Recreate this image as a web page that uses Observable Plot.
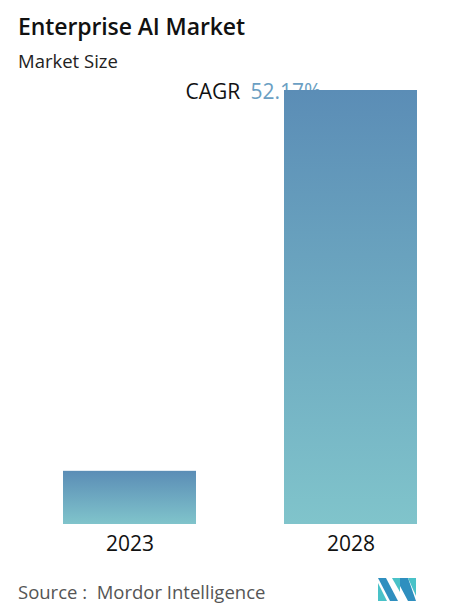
<!DOCTYPE html>
<html>
<head>
<meta charset="utf-8">
<script src="https://cdn.jsdelivr.net/npm/d3@7"></script>
<script src="https://cdn.jsdelivr.net/npm/@observablehq/plot@0.6"></script>
<style>
  html, body { margin: 0; padding: 0; background: #fff; }
  body { width: 474px; height: 615px; position: relative; overflow: hidden; font-family: "Open Sans", Lato, sans-serif; }
  #title { position: absolute; left: 18px; top: 10px; font-size: 23px; font-weight: 600; color: #111; letter-spacing: -0.1px; white-space: nowrap; }
  #subtitle { position: absolute; left: 18px; top: 48px; font-size: 18.5px; color: #222; white-space: nowrap; }
  #chart { position: absolute; left: 0; top: 75px; }
  #source { position: absolute; left: 18px; top: 579px; font-size: 18.5px; color: #555; white-space: nowrap; }
  #logo { position: absolute; left: 378px; top: 578px; }
</style>
</head>
<body>
<div id="title">Enterprise AI Market</div>
<div id="subtitle">Market Size</div>
<div id="chart"></div>
<div id="source">Source :&nbsp; Mordor Intelligence</div>
<svg id="logo" width="38" height="23" viewBox="0 0 38 23">
  <polygon points="0,0 8,0 20,23 12,23" fill="#2f8fbf"/>
  <polygon points="0,5 0,23 9,23" fill="#49c2c8"/>
  <polygon points="14,0 22,0 22,14" fill="#49c2c8"/>
  <polygon points="22,0 30,0 38,23 30,23 22,8" fill="#2f8fbf"/>
  <polygon points="30,0 38,0 38,18" fill="#49c2c8"/>
</svg>
<script>
const years = ["2023", "2028"];
const marketSize = [16.96, 138.42];
const cagrLabel = "CAGR";
const cagrValue = "52.17%";

const data = years.map((y, i) => ({year: y, value: marketSize[i]}));

const plot = Plot.plot({
  width: 474,
  height: 490,
  marginLeft: 62,
  marginRight: 57,
  marginTop: 15,
  marginBottom: 41,
  style: {fontFamily: "'Open Sans', Lato, sans-serif", background: "transparent"},
  x: {domain: years, paddingInner: 0.4, paddingOuter: 0, label: null, tickSize: 0, tickPadding: 12},
  y: {domain: [0, marketSize[1]], axis: null},
  marks: [
    Plot.text([cagrLabel], {frameAnchor: "top-left", dx: 123, dy: 2, text: d => d, textAnchor: "start", fontSize: 21, fill: "#111", lineAnchor: "middle"}),
    Plot.text([cagrValue], {frameAnchor: "top-left", dx: 188, dy: 2, text: d => d, textAnchor: "start", fontSize: 21, fill: "#6b9fc3", lineAnchor: "middle"}),
    Plot.barY(data, {x: "year", y: "value", fill: "url(#barGrad)"}),
    Plot.axisX({tickSize: 0, tickPadding: 12, fontSize: 21, fill: "#111"})
  ]
});

const defs = d3.select(plot).insert("defs", ":first-child");
const grad = defs.append("linearGradient").attr("id", "barGrad")
  .attr("x1", 0).attr("y1", 0).attr("x2", 0).attr("y2", 1);
grad.append("stop").attr("offset", "0%").attr("stop-color", "#5b8db6");
grad.append("stop").attr("offset", "100%").attr("stop-color", "#80c4cb");

document.getElementById("chart").appendChild(plot);
</script>
</body>
</html>
